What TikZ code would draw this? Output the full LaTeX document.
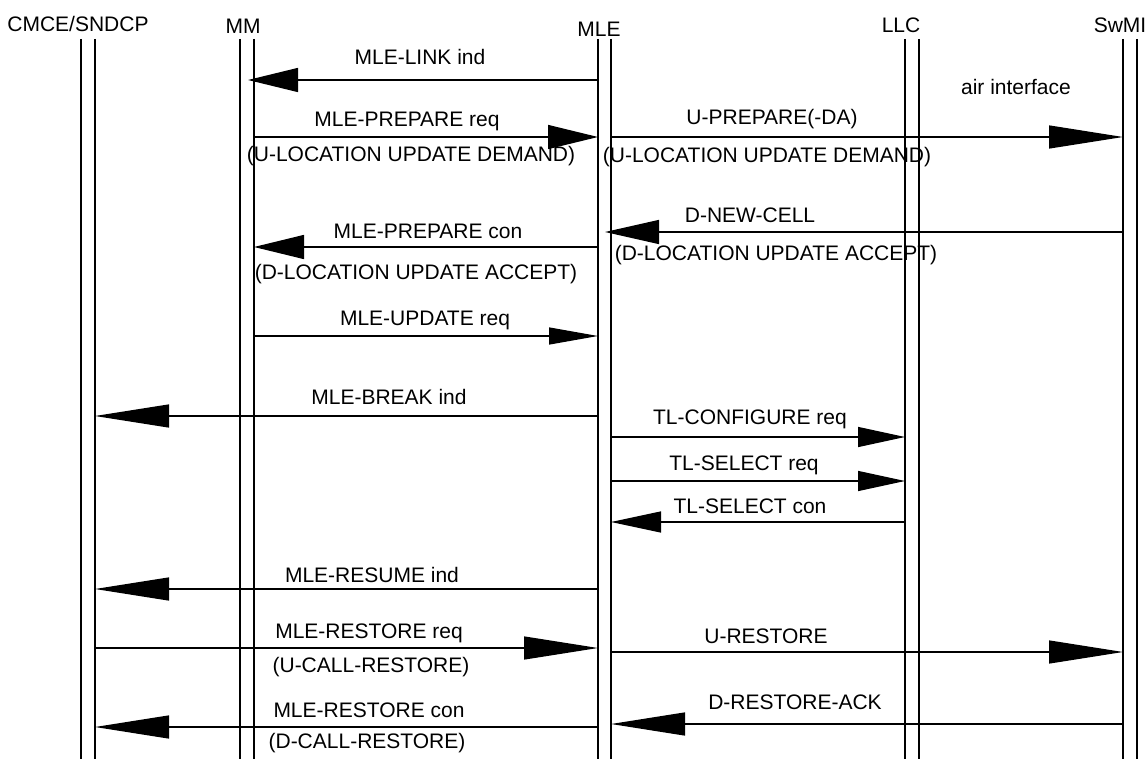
\documentclass[tikz,border=0pt]{standalone}
\usepackage{fontspec}
\setmainfont{Liberation Sans}
\usetikzlibrary{arrows.meta}
\begin{document}
\begin{tikzpicture}[x=1pt,y=-1pt,line width=1.3pt,
  every node/.style={font=\fontsize{21}{24}\selectfont,inner sep=0pt},
  >={Triangle[length=50pt,width=24pt]},
  longsig/.style={-{Triangle[length=74pt,width=23pt]}},
  shortsig/.style={-{Triangle[length=47pt,width=20pt]}}]
\useasboundingbox (0,0) rectangle (1148,759);

% lifelines
\foreach \name/\xa/\xb in {cmce/81/95,mm/240/254,mle/598/611,llc/905/919,swmi/1123/1137}{
  \coordinate (\name1) at (\xa,39);
  \coordinate (\name2) at (\xb,39);
  \draw (\name1) -- (\name1 |- 0,759);
  \draw (\name2) -- (\name2 |- 0,759);
}
\coordinate (mmMid) at (248,39);
\coordinate (mleMid) at (605,39);

\node (cmceT) at (78,24) {CMCE/SNDCP};
\node (mmT) at (243,26) {MM};
\node (mleT) at (599,29) {MLE};
\node (llcT) at (901,25) {LLC};
\node (swmiT) at (1120,25) {SwMI};
\node (air) at (1016,87) {air interface};

\node (linkInd) at (420,57) {MLE-LINK ind};
\draw[->] (mle1 |- 0,80) -- (mmMid |- 0,80);

\node (prepReq) at (407,121) {MLE-PREPARE req};
\node (prepReqB) at (411,156) {(U-LOCATION UPDATE DEMAND)};
\draw[->] (mm2 |- 0,137) -- (mle1 |- 0,137);

\node (uPrep) at (772,119) {U-PREPARE(-DA)};
\node (uPrepB) at (767,157) {(U-LOCATION UPDATE DEMAND)};
\draw[longsig] (mle2 |- 0,137) -- (swmi1 |- 0,137);

\node (newCell) at (750,215) {D-NEW-CELL};
\node (newCellB) at (776,255) {(D-LOCATION UPDATE ACCEPT)};
\draw[->,>={Triangle[length=54pt,width=24pt]}] (swmi1 |- 0,232) -- (mleMid |- 0,232);

\node (prepCon) at (428,231) {MLE-PREPARE con};
\node (prepConB) at (416,274) {(D-LOCATION UPDATE ACCEPT)};
\draw[->] (mle1 |- 0,247) -- (mm2 |- 0,247);

\node (updReq) at (425,320) {MLE-UPDATE req};
\draw[-{Triangle[length=49pt,width=17pt]}] (mm2 |- 0,336) -- (mle1 |- 0,336);

\node (breakInd) at (389,397) {MLE-BREAK ind};
\draw[longsig] (mle1 |- 0,416) -- (cmce2 |- 0,416);

\node (cfgReq) at (750,419) {TL-CONFIGURE req};
\draw[shortsig] (mle2 |- 0,437) -- (llc1 |- 0,437);

\node (selReq) at (744,465) {TL-SELECT req};
\draw[shortsig] (mle2 |- 0,481) -- (llc1 |- 0,481);

\node (selCon) at (750,506) {TL-SELECT con};
\draw[->,>={Triangle[length=50pt,width=21pt]}] (llc1 |- 0,522) -- (mle2 |- 0,522);

\node (resumeInd) at (372,575) {MLE-RESUME ind};
\draw[longsig] (mle1 |- 0,589) -- (cmce2 |- 0,589);

\node (restReq) at (369,633) {MLE-RESTORE req};
\node (restReqB) at (371,667) {(U-CALL-RESTORE)};
\draw[longsig] (cmce2 |- 0,648) -- (mle1 |- 0,648);

\node (uRest) at (766,636) {U-RESTORE};
\draw[longsig] (mle2 |- 0,652) -- (swmi1 |- 0,652);

\node (restAck) at (795,702) {D-RESTORE-ACK};
\draw[longsig] (swmi1 |- 0,724) -- (mle2 |- 0,724);

\node (restCon) at (369,710) {MLE-RESTORE con};
\node (restConB) at (367,743) {(D-CALL-RESTORE)};
\draw[longsig] (mle1 |- 0,727) -- (cmce2 |- 0,727);

\end{tikzpicture}
\end{document}
